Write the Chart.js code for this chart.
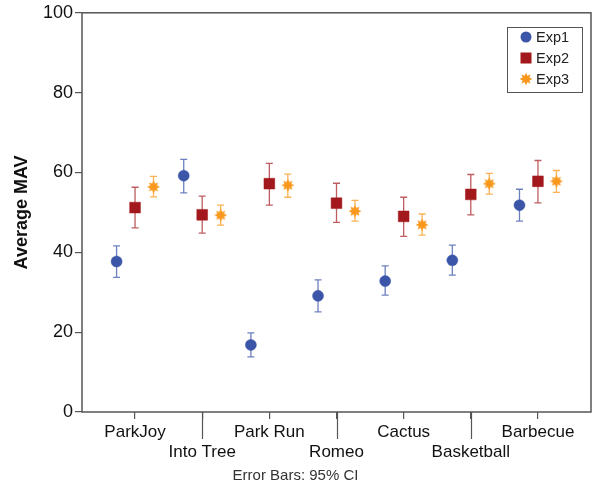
<!DOCTYPE html>
<html lang="en">
<head>
<meta charset="UTF-8">
<title>Average MAV</title>
<script src="https://cdn.jsdelivr.net/npm/chart.js"></script>
<style>
  html, body { margin: 0; padding: 0; background: #fff; }
</style>
</head>
<body>
<canvas id="mavChart" width="602" height="489"></canvas>
<script>
// data
var categories = ['ParkJoy', 'Into Tree', 'Park Run', 'Romeo', 'Cactus', 'Basketball', 'Barbecue'];
var yTicks = [0, 20, 40, 60, 80, 100];

var exp1Mean = [37.7, 59.2, 16.8, 29.1, 32.8, 38.0, 51.8];
var exp1Low  = [33.7, 54.9, 13.8, 25.1, 29.3, 34.3, 47.8];
var exp1High = [41.6, 63.3, 19.8, 33.1, 36.6, 41.8, 55.8];

var exp2Mean = [51.2, 49.4, 57.2, 52.3, 49.0, 54.5, 57.8];
var exp2Low  = [46.1, 44.8, 51.8, 47.5, 44.0, 49.4, 52.4];
var exp2High = [56.3, 54.1, 62.3, 57.3, 53.8, 59.5, 63.0];

var exp3Mean = [56.4, 49.3, 56.8, 50.3, 46.9, 57.2, 57.8];
var exp3Low  = [53.9, 46.8, 53.8, 47.8, 44.3, 54.6, 55.0];
var exp3High = [59.0, 51.8, 59.6, 53.0, 49.6, 59.8, 60.5];

var blue = '#3b56a8', red = '#a3181c', orange = '#f9981c';

Chart.defaults.font.family = "'Liberation Sans', Arial, sans-serif";
Chart.defaults.color = '#111';

// starburst marker for Exp3
function makeStar(color) {
    var c = document.createElement('canvas');
    c.width = 16; c.height = 16;
    var g = c.getContext('2d');
    g.fillStyle = color;
    g.beginPath();
    for (var k = 0; k < 16; k++) {
        var r = (k % 2 === 0) ? 6.5 : 3.6;
        var a = k * Math.PI / 8 - Math.PI / 2;
        var px = 8 + r * Math.cos(a), py = 8 + r * Math.sin(a);
        if (k === 0) g.moveTo(px, py); else g.lineTo(px, py);
    }
    g.closePath();
    g.fill();
    return c;
}
var starImg = makeStar(orange);

function points(mean, lo, hi, offset) {
    return mean.map(function(m, i) {
        return { x: i + offset, y: m, lo: lo[i], hi: hi[i] };
    });
}

var errorBars = {
    id: 'errorBars',
    beforeDatasetsDraw: function(chart) {
        var ctx = chart.ctx, xs = chart.scales.x, ys = chart.scales.y;
        chart.data.datasets.forEach(function(ds) {
            ctx.save();
            ctx.strokeStyle = ds.errColor;
            ctx.lineWidth = 1.3;
            ds.data.forEach(function(p) {
                var x = xs.getPixelForValue(p.x);
                var y1 = ys.getPixelForValue(p.lo), y2 = ys.getPixelForValue(p.hi);
                ctx.beginPath();
                ctx.moveTo(x, y1); ctx.lineTo(x, y2);
                ctx.moveTo(x - 3.5, y1); ctx.lineTo(x + 3.5, y1);
                ctx.moveTo(x - 3.5, y2); ctx.lineTo(x + 3.5, y2);
                ctx.stroke();
            });
            ctx.restore();
        });
    }
};

var frameAndLegend = {
    id: 'frameAndLegend',
    afterDraw: function(chart) {
        var ctx = chart.ctx, a = chart.chartArea, xs = chart.scales.x;
        ctx.save();
        ctx.strokeStyle = '#555';
        ctx.lineWidth = 1.5;
        ctx.strokeRect(a.left, a.top, a.right - a.left, a.bottom - a.top);
        // longer ticks under the second-row labels
        ctx.lineWidth = 1.2;
        categories.forEach(function(c, i) {
            if (i % 2 === 1) {
                var x = Math.round(xs.getPixelForValue(i)) + 0.5;
                ctx.beginPath();
                ctx.moveTo(x, a.bottom);
                ctx.lineTo(x, a.bottom + 27);
                ctx.stroke();
            }
        });
        // legend box
        ctx.lineWidth = 1;
        ctx.strokeStyle = '#555';
        ctx.strokeRect(507.5, 27.5, 75, 65);
        ctx.font = "14.5px 'Liberation Sans', Arial, sans-serif";
        ctx.textBaseline = 'middle';
        ctx.fillStyle = '#222';
        var rows = [37, 58, 79];
        ctx.fillStyle = blue;
        ctx.beginPath(); ctx.arc(526, rows[0], 5.5, 0, Math.PI * 2); ctx.fill();
        ctx.fillStyle = red;
        ctx.fillRect(520.5, rows[1] - 5.5, 11, 11);
        ctx.drawImage(starImg, 518, rows[2] - 8);
        ctx.fillStyle = '#222';
        chart.data.datasets.forEach(function(ds, i) {
            ctx.fillText(ds.label, 536, rows[i] + 1);
        });
        ctx.restore();
    }
};

var ctx = document.getElementById('mavChart').getContext('2d');
var mavChart = new Chart(ctx, {
    type: 'scatter',
    data: {
        datasets: [{
            label: 'Exp1',
            data: points(exp1Mean, exp1Low, exp1High, -0.275),
            pointStyle: 'circle',
            pointRadius: 5.5,
            backgroundColor: blue,
            borderColor: blue,
            borderWidth: 0.5,
            errColor: 'rgba(59,86,168,0.75)'
        }, {
            label: 'Exp2',
            data: points(exp2Mean, exp2Low, exp2High, 0),
            pointStyle: 'rect',
            pointRadius: 7.6,
            backgroundColor: red,
            borderColor: red,
            borderWidth: 0.5,
            errColor: 'rgba(163,24,28,0.7)'
        }, {
            label: 'Exp3',
            data: points(exp3Mean, exp3Low, exp3High, 0.275),
            pointStyle: starImg,
            pointRadius: 6,
            backgroundColor: orange,
            borderColor: orange,
            errColor: 'rgba(249,152,28,0.75)'
        }]
    },
    options: {
        responsive: false,
        animation: false,
        events: [],
        layout: { padding: { left: 0, right: 11, top: 12, bottom: 0 } },
        plugins: {
            legend: { display: false },
            tooltip: { enabled: false },
            title: {
                display: true,
                text: 'Error Bars: 95% CI',
                position: 'bottom',
                color: '#333',
                font: { size: 15, weight: 'normal' },
                padding: { top: 5, bottom: 4 }
            }
        },
        scales: {
            x: {
                type: 'linear',
                min: -0.79,
                max: 6.79,
                afterBuildTicks: function(scale) {
                    scale.ticks = categories.map(function(c, i) { return { value: i }; });
                },
                afterFit: function(scale) { scale.height = 50; },
                border: { display: false },
                grid: { drawOnChartArea: false, drawTicks: true, tickLength: 7, color: '#555', lineWidth: 1.2 },
                ticks: {
                    autoSkip: false,
                    maxRotation: 0,
                    padding: 3,
                    color: '#111',
                    font: { size: 17 },
                    callback: function(v) {
                        var name = categories[Math.round(v)];
                        return Math.round(v) % 2 === 0 ? [name] : ['', name];
                    }
                }
            },
            y: {
                min: 0,
                max: 100,
                afterBuildTicks: function(scale) {
                    scale.ticks = yTicks.map(function(v) { return { value: v }; });
                },
                afterFit: function(scale) { scale.width = 82; },
                border: { display: false },
                grid: { drawOnChartArea: false, drawTicks: true, tickLength: 7, color: '#555', lineWidth: 1.2 },
                ticks: { padding: 2, color: '#111', font: { size: 18 } },
                title: {
                    display: true,
                    text: 'Average MAV',
                    color: '#111',
                    font: { size: 18, weight: 'bold' },
                    padding: { top: 11, bottom: 0 }
                }
            }
        }
    },
    plugins: [errorBars, frameAndLegend]
});
</script>
</body>
</html>
